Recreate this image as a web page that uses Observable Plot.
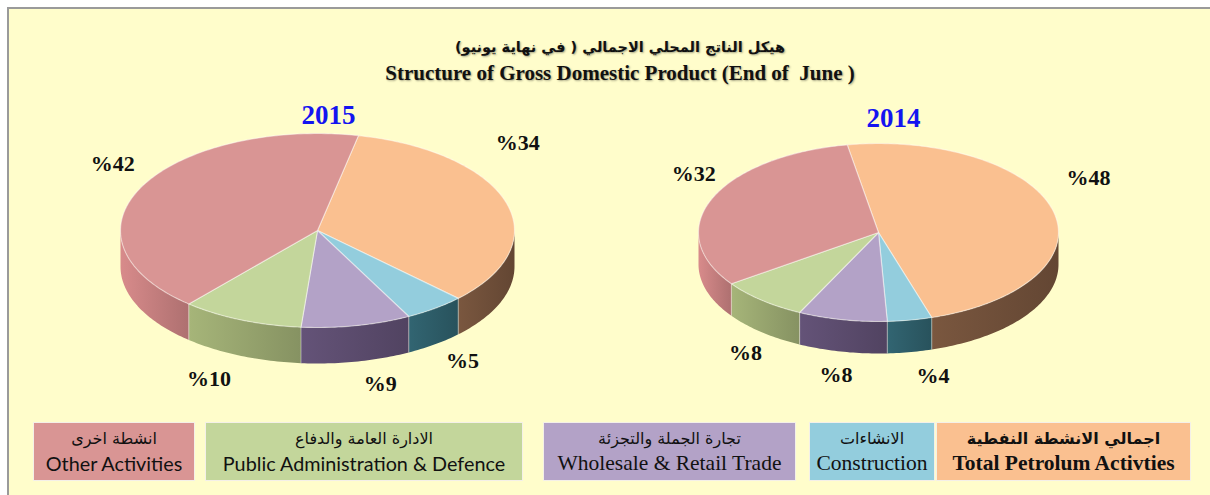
<!DOCTYPE html>
<html><head><meta charset="utf-8">
<script src="https://cdn.jsdelivr.net/npm/d3@7"></script>
<script src="https://cdn.jsdelivr.net/npm/@observablehq/plot@0.6"></script>
<style>
html,body{margin:0;padding:0;background:#fff;}
body{width:1210px;height:495px;overflow:hidden;position:relative;}
#frame{position:absolute;left:7px;top:7px;width:1220px;height:500px;border-left:2.5px solid #9a9a9a;border-top:2.5px solid #9a9a9a;background:#FFFDCB;}
.t{position:absolute;left:0;width:1240px;text-align:center;color:#111;font-weight:bold;text-shadow:1px 1px 2px rgba(0,0,0,0.35);}
#tar{top:37px;font-family:"DejaVu Sans",sans-serif;font-size:14.5px;line-height:20px;}
#ten{top:61px;font-family:"Liberation Serif",serif;font-size:21px;line-height:24px;}
#chart{position:absolute;left:0;top:0;}
.box{position:absolute;top:422px;height:59px;box-sizing:border-box;border:1px solid #f4f0e8;text-align:center;color:#111;}
.box .ar{font-family:"DejaVu Sans",sans-serif;font-size:16px;margin-top:5px;line-height:21px;}
.box .en{line-height:28px;margin-top:0px;white-space:nowrap;}
</style></head>
<body>
<div id="frame"></div>
<div class="t" id="tar" dir="rtl">هيكل الناتج المحلي الاجمالي ( في نهاية يونيو)</div>
<div class="t" id="ten">Structure of Gross Domestic Product (End of &nbsp;June )</div>
<div id="chart"></div>
<div id="legend"></div>
<script>
// ---- data ----
const categories = ["Total Petrolum Activties","Construction","Wholesale & Retail Trade","Public Administration & Defence","Other Activities"];
const categoriesAr = ["اجمالي الانشطة النفطية","الانشاءات","تجارة الجملة والتجزئة","الادارة العامة والدفاع","انشطة اخرى"];
const years = ["2015","2014"];
const share2015 = [34,5,9,10,42];
const share2014 = [48,4,8,8,32];

// ---- styles ----
const topColors  = ["#FAC090","#93CDDD","#B3A2C7","#C3D69B","#D99594"];
const sideColors = ["#6e4e39","#2d5b66","#5a4b6c","#95a36d","#c27d7d"];
const layouts = [
  {cx:317, cy:230, rx:197, ry:97, depth:36, start:12, yearDx:11, yearDy:-18,
   nudge:[[-26,-54],[4,1],[16,3],[-17,5],[7,-15]]},
  {cx:878, cy:232, rx:180, ry:89, depth:32, start:-10, yearDx:15, yearDy:-25,
   nudge:[[0,-29],[17,6],[1,6],[7,7],[15,-18]]}
];
const legendBoxes = [
  {i:4,l:33,w:162,f:"Lato",s:19.8,b:false},
  {i:3,l:205,w:318,f:"Lato",s:19.8,b:false},
  {i:2,l:543,w:253,f:"Liberation Serif",s:21.5,b:false},
  {i:1,l:809,w:126,f:"Liberation Serif",s:21.5,b:false},
  {i:0,l:936,w:255,f:"Liberation Serif",s:21.5,b:true}
];

const rad = d => d*Math.PI/180;
const gradients=[];
function build(values, L, key){
  const total = d3.sum(values);
  const tops=[], sides=[], labels=[], seams=[];
  const pt=(t,dy=0)=>({x:L.cx+L.rx*Math.sin(rad(t)), y:L.cy-L.ry*Math.cos(rad(t))+dy});
  const front=t=>Math.cos(rad(t))<0;
  let a = L.start;
  values.forEach((v,i)=>{
    const a0=a, a1=a+v/total*360; a=a1;
    const id=key+"-"+i;
    const n=Math.max(2,Math.ceil(a1-a0));
    tops.push({x:L.cx,y:L.cy,id,fill:topColors[i]});
    for(let k=0;k<=n;k++) tops.push({...pt(a0+(a1-a0)*k/n),id,fill:topColors[i]});
    for(let m=-1;m<=1;m++){
      const lo=Math.max(a0,90+360*m), hi=Math.min(a1,270+360*m);
      if(hi<=lo) continue;
      const gid="g-"+id+"-"+(m+1);
      gradients.push({id:gid,color:sideColors[i]});
      const ns=Math.max(2,Math.ceil(hi-lo));
      const poly=[];
      for(let k=0;k<=ns;k++) poly.push(pt(lo+(hi-lo)*k/ns));
      for(let k=ns;k>=0;k--) poly.push(pt(lo+(hi-lo)*k/ns,L.depth));
      sides.push({gid,pts:poly});
    }
    if(front(a0)) { const p=pt(a0), q=pt(a0,L.depth); seams.push({x1:p.x,y1:p.y,x2:q.x,y2:q.y}); }
    const mid=(a0+a1)/2, kk=1.2;
    const c=Math.cos(rad(mid));
    labels.push({x:L.cx+L.rx*kk*Math.sin(rad(mid))+L.nudge[i][0],
                 y:L.cy-L.ry*kk*c+(c<0?L.depth:0)+L.nudge[i][1],
                 text:"%"+v});
  });
  return {tops,sides,labels,seams};
}
const pies=[build(share2015,layouts[0],"p15"),build(share2014,layouts[1],"p14")];
const yearLabels=years.map((y,j)=>({x:layouts[j].cx+layouts[j].yearDx,y:layouts[j].cy-layouts[j].ry+layouts[j].yearDy,text:y}));

const defsMark=()=>{
  const defs=d3.create("svg:defs");
  gradients.forEach(g=>{
    const lg=defs.append("linearGradient").attr("id",g.id).attr("x1",0).attr("x2",1).attr("y1",0).attr("y2",0);
    lg.append("stop").attr("offset","0%").attr("stop-color",d3.color(g.color).brighter(0.3).formatHex());
    lg.append("stop").attr("offset","100%").attr("stop-color",d3.color(g.color).darker(0.3).formatHex());
  });
  return defs.node();
};

const marks=[defsMark];
pies.forEach(p=>{
  p.sides.forEach(s=>marks.push(Plot.line(s.pts,{x:"x",y:"y",fill:`url(#${s.gid})`,stroke:"none",curve:"linear-closed"})));
  marks.push(Plot.link(p.seams,{x1:"x1",y1:"y1",x2:"x2",y2:"y2",stroke:"#ffffff",strokeOpacity:0.35,strokeWidth:1.2}));
});
pies.forEach(p=>{
  marks.push(Plot.line(p.tops,{x:"x",y:"y",z:"id",fill:"fill",stroke:"#ffffff",strokeOpacity:0.45,strokeWidth:1.2,curve:"linear-closed"}));
  marks.push(Plot.text(p.labels,{x:"x",y:"y",text:"text",fontSize:22,fontWeight:"bold",fontFamily:"Liberation Serif",fill:"#111"}));
});
marks.push(Plot.text(yearLabels,{x:"x",y:"y",text:"text",fontSize:27,fontWeight:"bold",fontFamily:"Liberation Serif",fill:"#1414f0"}));

const chart=Plot.plot({
  width:1210,height:495,margin:0,
  x:{domain:[0,1210],range:[0,1210],axis:null},
  y:{domain:[0,495],range:[0,495],axis:null},
  color:{type:"identity"},
  style:{background:"transparent",overflow:"visible"},
  marks
});
document.getElementById("chart").appendChild(chart);

const leg=document.getElementById("legend");
legendBoxes.forEach(b=>{
  const d=document.createElement("div");
  d.className="box";
  d.style.left=b.l+"px"; d.style.width=b.w+"px"; d.style.background=topColors[b.i];
  const ar=document.createElement("div"); ar.className="ar"; ar.dir="rtl"; ar.textContent=categoriesAr[b.i];
  if(b.b) ar.style.fontWeight="bold";
  const en=document.createElement("div"); en.className="en"; en.textContent=categories[b.i];
  en.style.fontFamily=b.f; en.style.fontSize=b.s+"px"; if(b.b) en.style.fontWeight="bold";
  d.appendChild(ar); d.appendChild(en); leg.appendChild(d);
});
</script>
</body></html>
